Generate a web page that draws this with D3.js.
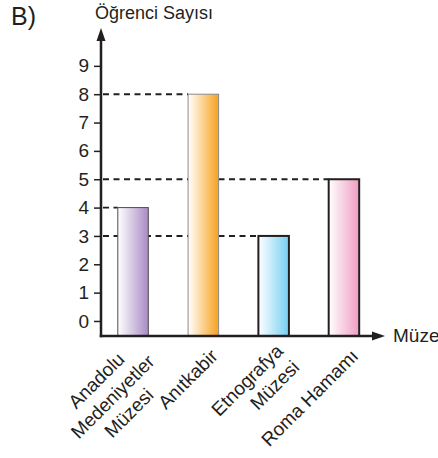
<!DOCTYPE html>
<html>
<head>
<meta charset="utf-8">
<script src="https://cdn.jsdelivr.net/npm/d3@7"></script>
<style>
  body { margin: 0; background: #fff; }
  svg { display: block; }
  text { font-family: "Liberation Sans", Arial, Helvetica, sans-serif; fill: #231f20; }
</style>
</head>
<body>
<svg id="chart" width="438" height="458"></svg>
<script>
// Museums visited and the number of students for each
const museums = ["Anadolu Medeniyetler Müzesi", "Anıtkabir", "Etnografya Müzesi", "Roma Hamamı"];
const museumLabelLines = [["Anadolu", "Medeniyetler", "Müzesi"], ["Anıtkabir"], ["Etnografya", "Müzesi"], ["Roma Hamamı"]];
const studentCounts = [4, 8, 3, 5];
const yTickValues = [0, 1, 2, 3, 4, 5, 6, 7, 8, 9];

// Bar styling
const barColors = ["#a88bc4", "#f6a21d", "#74cff1", "#ef9cc2"];
const barStrokes = ["#4d4d4d", "#8a8a8a", "#231f20", "#231f20"];
const barStrokeWidths = [1, 1, 2, 2];
const labelAlign = ["middle", "end", "end", "end"];

const ink = "#231f20";
const axisX = 101, baseY = 336;

const svg = d3.select("#chart");

const x = d3.scaleBand()
  .domain(museums)
  .range([axisX, 376])
  .paddingInner(0.566)
  .paddingOuter(0.239);

// The horizontal axis sits a little below the zero tick
const y = d3.scaleLinear().domain([-0.53, 9]).range([baseY, 65.85]);

// Gradients: white on the left fading into the bar colour on the right
const defs = svg.append("defs");
barColors.forEach((c, i) => {
  const g = defs.append("linearGradient")
    .attr("id", "barGrad" + i)
    .attr("x1", "0").attr("x2", "1").attr("y1", "0").attr("y2", "0");
  g.append("stop").attr("offset", "0").attr("stop-color", "#ffffff");
  g.append("stop").attr("offset", "1").attr("stop-color", c);
});

const data = museums.map((m, i) => ({ name: m, value: studentCounts[i], i }));

// Dashed guides from the vertical axis to each bar top
svg.append("g").selectAll("line")
  .data(data)
  .join("line")
  .attr("x1", axisX + 2)
  .attr("x2", d => x(d.name))
  .attr("y1", d => y(d.value))
  .attr("y2", d => y(d.value))
  .attr("stroke", ink)
  .attr("stroke-width", 1.9)
  .attr("stroke-dasharray", "6,4.5");

// Bars
svg.append("g").selectAll("rect")
  .data(data)
  .join("rect")
  .attr("x", d => x(d.name))
  .attr("y", d => y(d.value))
  .attr("width", x.bandwidth())
  .attr("height", d => baseY - y(d.value))
  .attr("fill", d => `url(#barGrad${d.i})`)
  .attr("stroke", d => barStrokes[d.i])
  .attr("stroke-width", d => barStrokeWidths[d.i]);

// Vertical axis ticks and numbers
const yAxis = d3.axisLeft(y)
  .tickValues(yTickValues)
  .tickFormat(d3.format("d"))
  .tickSize(7)
  .tickPadding(5);
const yg = svg.append("g").attr("transform", `translate(${axisX},0)`).call(yAxis);
yg.select(".domain").remove();
yg.selectAll(".tick line").attr("stroke", ink).attr("stroke-width", 1.5);
yg.selectAll(".tick text")
  .attr("font-size", 19)
  .attr("font-family", "\"Liberation Sans\", Arial, sans-serif")
  .attr("fill", ink);

// Axis lines with arrow heads
svg.append("line")
  .attr("x1", axisX).attr("x2", axisX)
  .attr("y1", baseY + 1.25).attr("y2", 38)
  .attr("stroke", ink).attr("stroke-width", 2.5);
svg.append("path")
  .attr("d", `M${axisX},28 L${axisX - 4.5},41 L${axisX + 4.5},41 Z`)
  .attr("fill", ink);

svg.append("line")
  .attr("x1", axisX - 1.25).attr("x2", 375)
  .attr("y1", baseY).attr("y2", baseY)
  .attr("stroke", ink).attr("stroke-width", 2.5);
svg.append("path")
  .attr("d", `M385,${baseY} L372,${baseY - 4.5} L372,${baseY + 4.5} Z`)
  .attr("fill", ink);

// Rotated category labels under the bars
data.forEach(d => {
  const lines = museumLabelLines[d.i];
  const n = lines.length;
  const g = svg.append("g")
    .attr("transform", `translate(${x(d.name) + x.bandwidth() / 2},${baseY}) rotate(-45)`);
  const texts = lines.map((t, k) => g.append("text")
    .attr("font-size", 19)
    .attr("y", 26 - (n - 1) * 7 + k * 23)
    .attr("text-anchor", labelAlign[d.i])
    .text(t));
  const maxW = d3.max(texts, t => t.node().getComputedTextLength());
  texts.forEach(t => t.attr("x", labelAlign[d.i] === "middle" ? -3 - maxW / 2 : -4));
});

// Axis titles and panel letter
svg.append("text")
  .attr("x", 95).attr("y", 19)
  .attr("font-size", 18)
  .text("Öğrenci Sayısı");

svg.append("text")
  .attr("x", 393).attr("y", 342)
  .attr("font-size", 19)
  .text("Müze");

svg.append("text")
  .attr("x", 11).attr("y", 25)
  .attr("font-size", 25)
  .text("B)");
</script>
</body>
</html>
